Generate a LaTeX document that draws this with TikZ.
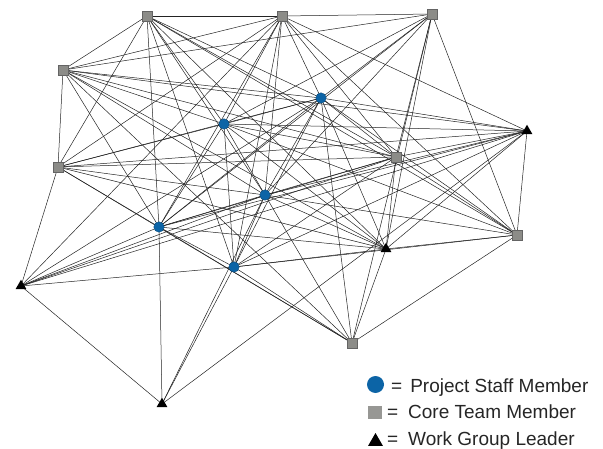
\documentclass[tikz,border=0pt]{standalone}
\usepackage{fontspec}
\setmainfont{Liberation Sans}
\usetikzlibrary{shapes.geometric,backgrounds}
\definecolor{psmblue}{RGB}{12,100,166}
\definecolor{ctmgray}{RGB}{140,140,136}
\definecolor{ctmedge}{RGB}{100,100,100}
\definecolor{edgecol}{RGB}{35,35,35}
\begin{document}
\begin{tikzpicture}[x=1pt,y=-1pt,
  psm/.style={circle,fill=psmblue,draw=psmblue!70!black,line width=0.3pt,minimum size=10.5pt,inner sep=0pt},
  ctm/.style={rectangle,fill=ctmgray,draw=ctmedge,line width=0.4pt,minimum size=10pt,inner sep=0pt},
  wgl/.style={regular polygon,regular polygon sides=3,fill=black,minimum size=12.5pt,inner sep=0pt},
  link/.style={draw=edgecol,line width=0.5pt},
  legtext/.style={anchor=base west,font=\fontsize{19}{21}\selectfont,text=black!85,inner sep=0pt}]
\useasboundingbox (0,0) rectangle (603,449);
% nodes
\node[ctm] (S1) at (147,16) {};
\node[ctm] (S2) at (282,16) {};
\node[ctm] (S3) at (432,14) {};
\node[ctm] (S4) at (63,70) {};
\node[ctm] (S5) at (58,167) {};
\node[ctm] (S6) at (396,157) {};
\node[ctm] (S7) at (517,235) {};
\node[ctm] (S8) at (352,343) {};
\node[psm] (C1) at (321,98) {};
\node[psm] (C2) at (224,124) {};
\node[psm] (C3) at (265,195) {};
\node[psm] (C4) at (159,227) {};
\node[psm] (C5) at (234,267) {};
\node[wgl] (T1) at (527,131) {};
\node[wgl] (T2) at (386,249) {};
\node[wgl] (T3) at (21,286) {};
\node[wgl] (T4) at (162,404) {};
% connectors
\begin{scope}[on background layer]
\foreach \a/\b in {
 S1/S2,S1/S4,S1/S5,S1/C4,S1/C5,S1/C2,S1/C3,S1/C1,S1/S6,S1/T2,S1/S7,
 S2/S3,S2/S4,S2/S5,S2/T3,S2/C2,S2/C4,S2/C5,S2/C3,S2/C1,S2/S6,S2/T1,S2/S7,
 S3/S4,S3/C2,S3/C4,S3/C1,S3/C3,S3/S6,S3/T2,S3/S8,S3/S7,
 S4/S5,S4/C1,S4/S6,S4/T1,S4/C2,S4/C3,S4/T2,S4/S8,S4/C4,
 S5/T3,S5/C2,S5/C1,S5/S6,S5/T1,S5/C3,S5/C4,S5/S8,S5/T2,
 T3/C4,T3/C3,T3/S6,T3/T1,T3/C5,T3/T4,T3/C1,
 T4/C4,T4/C5,T4/C3,T4/T1,
 C1/C2,C1/C3,C1/C4,C1/C5,C1/S6,C1/T1,C1/T2,C1/S7,C1/S8,
 C2/C3,C2/C4,C2/C5,C2/S6,C2/T1,C2/T2,C2/S7,
 C3/C4,C3/C5,C3/S6,C3/T1,C3/T2,C3/S7,C3/S8,
 C4/C5,C4/S6,C4/T1,C4/T2,C4/S8,
 C5/S6,C5/T1,C5/T2,C5/S7,C5/S8,
 S6/T1,S6/T2,S6/S7,
 T1/S7,T1/T2,
 T2/S7,T2/S8,
 S7/S8}
 \draw[link] (\a.center) -- (\b.center);
\end{scope}
% legend
\node[circle,fill=psmblue,minimum size=17pt,inner sep=0pt] (L1) at (375.5,384.5) {};
\node[rectangle,fill=ctmgray!90,minimum width=14pt,minimum height=12.5pt,inner sep=0pt] (L2) at (375,412.5) {};
\node[regular polygon,regular polygon sides=3,fill=black,minimum size=17pt,inner sep=0pt] (L3) at (375.5,441.5) {};
\node[legtext] (T1txt) at (391,392) {=\hspace{0.42em}Project Staff Member};
\node[legtext] (T2txt) at (387,418.5) {=\hspace{0.52em}Core Team Member};
\node[legtext] (T3txt) at (387,445) {=\hspace{0.52em}Work Group Leader};
\end{tikzpicture}
\end{document}
